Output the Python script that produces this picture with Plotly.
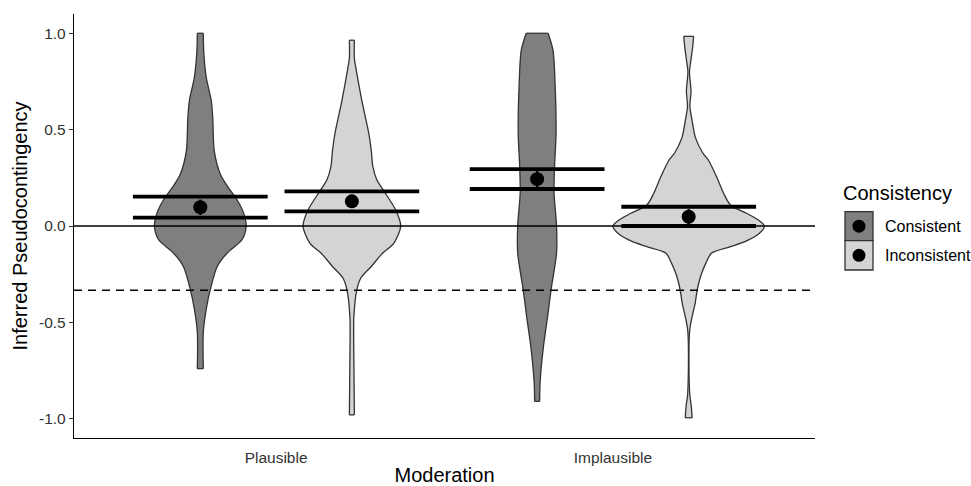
import plotly.graph_objects as go

# ---------------- data ----------------
moderation = ["Plausible", "Implausible"]
consistency = ["Consistent", "Inconsistent"]
group_pos = [1, 2]
dodge = 0.225

# means and small error (SE) per violin: order P-C, P-I, I-C, I-I
means = [0.097, 0.128, 0.243, 0.048]
se = [0.04, 0.035, 0.045, 0.04]
# thick interval lines (upper, lower)
ci_upper = [0.152, 0.180, 0.295, 0.100]
ci_lower = [0.043, 0.076, 0.192, 0.000]

ref_lines = [0.0, -1 / 3]

# violin density profiles (y level, relative density)
v1_y = [1.0, 0.9, 0.77, 0.65, 0.56, 0.39, 0.27, 0.20, 0.135, 0.067, 0.0, -0.07, -0.14, -0.21, -0.33, -0.43, -0.55, -0.74]
v1_d = [3, 3.5, 6, 11, 12.5, 14, 20, 28, 37, 43.5, 46, 42, 27, 17, 10, 6, 3, 3]

v2_y = [0.964, 0.87, 0.82, 0.65, 0.48, 0.39, 0.31, 0.24, 0.19, 0.083, 0.0, -0.09, -0.14, -0.21, -0.27, -0.33, -0.47, -0.7, -0.98]
v2_d = [2.5, 2.5, 4, 10, 17, 19.5, 21, 25, 31, 44, 49, 42, 31, 19.5, 9, 5, 2, 2, 2.5]

v3_y = [1.0, 0.91, 0.74, 0.48, 0.31, 0.17, 0.0, -0.14, -0.33, -0.47, -0.64, -0.81, -0.91]
v3_d = [11, 16, 18, 19, 17.5, 17, 19.5, 19.5, 14, 10.5, 6, 3, 2.5]

v4_y = [0.984, 0.93, 0.87, 0.80, 0.70, 0.62, 0.55, 0.46, 0.38, 0.34, 0.255, 0.17, 0.109, 0.066, 0.031, 0.0,
        -0.038, -0.08, -0.107, -0.14, -0.19, -0.245, -0.297, -0.35, -0.40, -0.54, -0.87, -0.93, -0.995]
v4_d = [5, 4, 2.5, 0.8, 2.3, 1.2, 3.3, 6.7, 14, 20, 28, 35, 42, 58, 70, 76,
        71, 57, 42, 23, 17.5, 13, 10, 8, 6.5, 1, 1, 2.5, 3.5]

violin_y = [v1_y, v2_y, v3_y, v4_y]
violin_d = [v1_d, v2_d, v3_d, v4_d]
density_scale = 1 / 338.0

fill_colors = {"Consistent": "#7f7f7f", "Inconsistent": "#d4d4d4"}
outline = "#333333"
FONT = "Liberation Sans, Arial, Helvetica"

# ---------------- figure ----------------
fig = go.Figure()

centers = []
labels = []
for gi, g in enumerate(group_pos):
    for ci, c in enumerate(consistency):
        centers.append(g + (-dodge if ci == 0 else dodge))
        labels.append(c)

SPL = dict(shape="spline", smoothing=0.8)

# violins: smooth sides (spline), flat trimmed ends
for k in range(4):
    cx = centers[k]
    ys = violin_y[k]
    ds = violin_d[k]
    right_x = [cx + d * density_scale for d in ds]
    left_x = [cx - d * density_scale for d in ds]
    # fill between left and right sides
    fig.add_trace(go.Scatter(x=left_x, y=ys, mode="lines",
                             line=dict(color="rgba(0,0,0,0)", width=0, **SPL),
                             showlegend=False, hoverinfo="skip"))
    fig.add_trace(go.Scatter(x=right_x, y=ys, mode="lines", fill="tonextx",
                             fillcolor=fill_colors[labels[k]],
                             line=dict(color="rgba(0,0,0,0)", width=0, **SPL),
                             showlegend=False, hoverinfo="skip"))
    # outline
    fig.add_trace(go.Scatter(x=left_x, y=ys, mode="lines",
                             line=dict(color=outline, width=1.3, **SPL),
                             showlegend=False, hoverinfo="skip"))
    fig.add_trace(go.Scatter(x=right_x, y=ys, mode="lines",
                             line=dict(color=outline, width=1.3, **SPL),
                             showlegend=False, hoverinfo="skip"))
    fig.add_trace(go.Scatter(x=[left_x[0], right_x[0], None, left_x[-1], right_x[-1]],
                             y=[ys[0], ys[0], None, ys[-1], ys[-1]], mode="lines",
                             line=dict(color=outline, width=1.3),
                             showlegend=False, hoverinfo="skip"))

# reference lines
fig.add_trace(go.Scatter(x=[0.4, 2.6], y=[ref_lines[0]] * 2, mode="lines",
                         line=dict(color="black", width=1.3), showlegend=False, hoverinfo="skip"))
fig.add_trace(go.Scatter(x=[0.4, 2.6], y=[ref_lines[1]] * 2, mode="lines",
                         line=dict(color="black", width=1.3, dash="8px,6px"),
                         showlegend=False, hoverinfo="skip"))

# thick interval lines
hx, hy = [], []
half = 0.2
for k in range(4):
    cx = centers[k]
    for val in (ci_upper[k], ci_lower[k]):
        hx += [cx - half, cx + half, None]
        hy += [val, val, None]
fig.add_trace(go.Scatter(x=hx, y=hy, mode="lines", line=dict(color="black", width=3.8),
                         showlegend=False, hoverinfo="skip"))

# means with error bars
fig.add_trace(go.Scatter(
    x=centers, y=means, mode="markers",
    marker=dict(color="black", size=14),
    error_y=dict(type="data", array=se, visible=True, color="black", thickness=2.2, width=0),
    showlegend=False))

# ---------------- manual legend ----------------
L, R, T, B = 74, 815, 14, 438
W, H = R - L, B - T


def px(xp):
    return (xp - L) / W


def py(yp):
    return (B - yp) / H


shapes = []
annotations = []
keys = [(211.7, 240.7, "Consistent"), (240.7, 270.0, "Inconsistent")]
for y0, y1, lab in keys:
    shapes.append(dict(type="rect", xref="paper", yref="paper",
                       x0=px(845), x1=px(873), y0=py(y1), y1=py(y0),
                       fillcolor=fill_colors[lab], line=dict(color=outline, width=1.3)))
    cy = (y0 + y1) / 2
    shapes.append(dict(type="circle", xref="paper", yref="paper",
                       x0=px(852.5), x1=px(865.5), y0=py(cy + 6.5), y1=py(cy - 6.5),
                       fillcolor="black", line=dict(color="black", width=0)))
    annotations.append(dict(text=lab, xref="paper", yref="paper", x=px(883), y=py(cy),
                            xanchor="left", yanchor="middle", showarrow=False,
                            font=dict(family=FONT, size=16, color="black")))
annotations.append(dict(text="Consistency", xref="paper", yref="paper", x=px(841), y=py(193),
                        xanchor="left", yanchor="middle", showarrow=False,
                        font=dict(family=FONT, size=20, color="black")))

fig.update_layout(
    width=971, height=486,
    margin=dict(l=L, r=971 - R, t=T, b=486 - B),
    paper_bgcolor="white", plot_bgcolor="white",
    font=dict(family=FONT, color="black"),
    showlegend=False,
    shapes=shapes, annotations=annotations,
    xaxis=dict(range=[0.4, 2.6], tickvals=group_pos, ticktext=moderation,
               showgrid=False, zeroline=False, showline=True, linecolor="black", linewidth=1.3,
               ticks="", ticklabelstandoff=5, automargin=False,
               tickfont=dict(size=15.5, color="#333333"),
               title=dict(text="Moderation", font=dict(size=20, color="black"), standoff=4)),
    yaxis=dict(range=[-1.1, 1.1], tickvals=[-1, -0.5, 0, 0.5, 1],
               ticktext=["-1.0", "-0.5", "0.0", "0.5", "1.0"],
               showgrid=False, zeroline=False, showline=True, linecolor="black", linewidth=1.3,
               ticks="outside", ticklen=4, tickcolor="#333333", tickwidth=1.2, automargin=False,
               tickfont=dict(size=15.5, color="#333333"),
               title=dict(text="Inferred Pseudocontingency", font=dict(size=20, color="black"),
                          standoff=6)),
)

fig.write_html("out.html")
